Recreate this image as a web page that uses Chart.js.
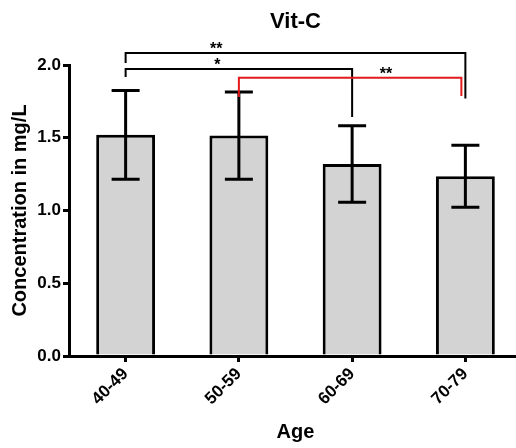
<!DOCTYPE html>
<html>
<head>
<meta charset="utf-8">
<script src="https://cdn.jsdelivr.net/npm/chart.js@4"></script>
<style>
  html, body { margin: 0; padding: 0; background: #fff; overflow: hidden; }
</style>
</head>
<body>
<canvas id="myChart" width="530" height="448"></canvas>
<script>
// data
const ages = ["40-49", "50-59", "60-69", "70-79"];
const means = [1.52, 1.515, 1.32, 1.235];
const errs = [0.305, 0.30, 0.263, 0.213];
const yTicks = [0, 0.5, 1.0, 1.5, 2.0];

// significance brackets (indices into ages, heights in mg/L)
const brFrom = [0, 0, 1];
const brTo = [3, 2, 3];
const brLevel = [2.083, 1.973, 1.913];
const brLeftEnd = [2.013, 1.918, 1.78];
const brRightEnd = [1.77, 1.643, 1.787];
const brText = ["**", "*", "**"];
const brTextAt = [0.8, 0.81, 2.3];
const brColor = ["#000", "#000", "#e3191c"];

const font = "'Liberation Sans', Arial, sans-serif";

const extras = {
    id: 'extras',
    afterDatasetsDraw(chart) {
        const ctx = chart.ctx;
        const x = chart.scales.x;
        const y = chart.scales.y;
        const bars = chart.getDatasetMeta(0).data;
        ctx.save();
        // error bars
        ctx.strokeStyle = '#000';
        ctx.lineWidth = 3;
        bars.forEach((b, i) => {
            const top = y.getPixelForValue(means[i] + errs[i]);
            const bot = y.getPixelForValue(means[i] - errs[i]);
            ctx.beginPath();
            ctx.moveTo(b.x, top);
            ctx.lineTo(b.x, bot);
            ctx.moveTo(b.x - 14, top);
            ctx.lineTo(b.x + 14, top);
            ctx.moveTo(b.x - 14, bot);
            ctx.lineTo(b.x + 14, bot);
            ctx.stroke();
        });
        // brackets
        ctx.lineWidth = 2;
        for (let k = 0; k < brFrom.length; k++) {
            const x1 = bars[brFrom[k]].x;
            const x2 = bars[brTo[k]].x - (brColor[k] === '#000' ? 0 : 4);
            const yl = y.getPixelForValue(brLevel[k]);
            ctx.strokeStyle = brColor[k];
            ctx.beginPath();
            ctx.moveTo(x1, y.getPixelForValue(brLeftEnd[k]));
            ctx.lineTo(x1, yl);
            ctx.lineTo(x2, yl);
            ctx.lineTo(x2, y.getPixelForValue(brRightEnd[k]));
            ctx.stroke();
            ctx.fillStyle = '#000';
            ctx.font = 'bold 16px ' + font;
            ctx.textAlign = 'center';
            ctx.textBaseline = 'middle';
            ctx.fillText(brText[k], x.getPixelForValue(brTextAt[k]), yl - 3);
        }
        // title
        ctx.fillStyle = '#000';
        ctx.font = 'bold 22px ' + font;
        ctx.textAlign = 'center';
        ctx.textBaseline = 'middle';
        const ca = chart.chartArea;
        ctx.fillText('Vit-C', (ca.left + ca.right) / 2, 22);
        ctx.restore();
    }
};

new Chart("myChart", {
    type: "bar",
    data: {
        labels: ages,
        datasets: [{
            data: means,
            backgroundColor: "#d3d3d3",
            borderColor: "#000",
            borderWidth: 3,
            categoryPercentage: 1.0,
            barPercentage: 0.52
        }]
    },
    options: {
        responsive: false,
        animation: false,
        layout: { padding: { top: 65, left: 8, right: 8, bottom: 0 } },
        plugins: {
            legend: { display: false },
            tooltip: { enabled: false }
        },
        scales: {
            x: {
                afterFit: s => { s.height = 92; },
                grid: { offset: false, drawOnChartArea: false, color: '#000', lineWidth: 3, tickLength: 6 },
                border: { color: '#000', width: 3 },
                ticks: {
                    color: '#000', font: { family: font, size: 17, weight: 'bold' },
                    minRotation: 45, maxRotation: 45, padding: 2
                },
                title: {
                    display: true, text: 'Age', color: '#000',
                    font: { family: font, size: 20, weight: 'bold' }, padding: { top: 4 }
                }
            },
            y: {
                min: 0, max: 2.0,
                afterFit: s => { s.width = 61; },
                afterBuildTicks: s => { s.ticks = yTicks.map(v => ({ value: v })); },
                grid: { drawOnChartArea: false, color: '#000', lineWidth: 3, tickLength: 6 },
                border: { color: '#000', width: 3 },
                ticks: {
                    color: '#000', font: { family: font, size: 17, weight: 'bold' },
                    padding: 2, callback: v => v.toFixed(1)
                },
                title: {
                    display: true, text: 'Concentration in mg/L', color: '#000',
                    font: { family: font, size: 20, weight: 'bold' }, padding: 0
                }
            }
        }
    },
    plugins: [extras]
});
</script>
</body>
</html>
